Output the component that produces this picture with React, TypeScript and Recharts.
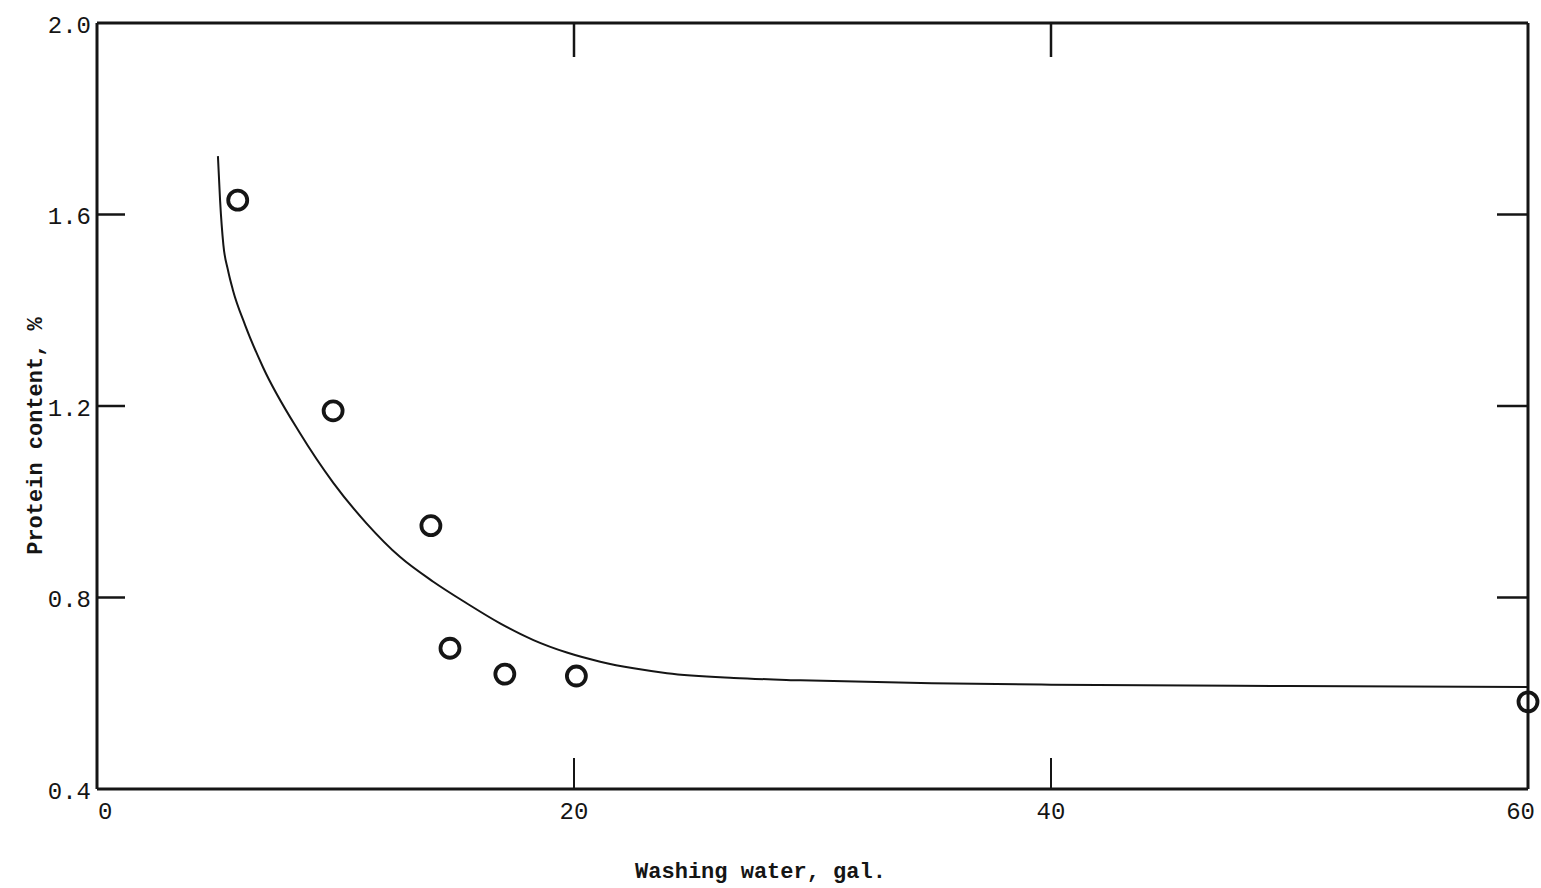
import React from 'react';
import { ComposedChart, Line, Scatter, XAxis, YAxis } from 'recharts';

// measured points (washing water, gal -> protein %)
const pointsX = [5.9, 9.9, 14.0, 14.8, 17.1, 20.1, 60];
const pointsY = [1.63, 1.19, 0.95, 0.694, 0.64, 0.636, 0.582];

// smooth fitted curve
const curveX = [5.07, 5.16, 5.3, 5.49, 5.7, 6.21, 6.96, 8.5, 9.9, 11.3, 12.7, 14.1, 15.5, 16.9, 18.3, 19.7, 21.1, 22.5, 23.9, 26.7, 29.5, 35, 40, 50, 60];
const curveY = [1.722, 1.63, 1.536, 1.484, 1.442, 1.369, 1.281, 1.144, 1.04, 0.955, 0.885, 0.833, 0.788, 0.746, 0.711, 0.685, 0.666, 0.652, 0.642, 0.632, 0.627, 0.621, 0.618, 0.615, 0.613];

const xTicks = [0, 20, 40, 60];
const yTicks = [0.4, 0.8, 1.2, 1.6, 2.0];
const innerXTicks = [20, 40];
const innerYTicks = [0.8, 1.2, 1.6];

const pointData = pointsX.map((x, i) => ({ x, y: pointsY[i] }));
const curveData = curveX.map((x, i) => ({ x, y: curveY[i] }));

const ink = '#151515';
const font = '"Liberation Mono", "DejaVu Sans Mono", monospace';

const LeftTick = (props: any) => {
  const { x, y, payload } = props;
  const v = payload.value;
  const inner = innerYTicks.includes(v);
  return (
    <g>
      {inner && <line x1={x + 6} x2={x + 34} y1={y} y2={y} stroke={ink} strokeWidth={2.5} />}
      <text x={x} y={y + 3} textAnchor="end" dominantBaseline="central" fontFamily={font} fontSize={24} fill={ink}>
        {v.toFixed(1)}
      </text>
    </g>
  );
};

const BottomTick = (props: any) => {
  const { x, y, payload } = props;
  const v = payload.value;
  const inner = innerXTicks.includes(v);
  let anchor: 'middle' | 'start' | 'end' = 'middle';
  let tx = x;
  if (v === 0) { anchor = 'start'; tx = x + 1; }
  if (v === 60) { anchor = 'end'; tx = x + 7; }
  return (
    <g>
      {inner && <line x1={x} x2={x} y1={y} y2={y - 31} stroke={ink} strokeWidth={2} />}
      <text x={tx} y={y + 23} textAnchor={anchor} dominantBaseline="central" fontFamily={font} fontSize={24} fill={ink}>
        {v}
      </text>
    </g>
  );
};

const TopTick = (props: any) => {
  const { x, y } = props;
  return <line x1={x} x2={x} y1={y} y2={y + 34} stroke={ink} strokeWidth={2.5} />;
};

const RightTick = (props: any) => {
  const { x, y } = props;
  return <line x1={x} x2={x - 31} y1={y} y2={y} stroke={ink} strokeWidth={2.5} />;
};

const Ring = (props: any) => {
  const { cx, cy } = props;
  return <circle cx={cx} cy={cy} r={9.5} fill="none" stroke={ink} strokeWidth={3.8} />;
};

const App = () => (
  <div style={{ width: 1541, height: 888, background: '#fff' }}>
    <style>{'body{margin:0}'}</style>
    <ComposedChart width={1541} height={888} margin={{ top: 22, right: 12, bottom: 0, left: 0 }}>
      <XAxis
        xAxisId="bottom"
        dataKey="x"
        type="number"
        domain={[0, 60]}
        ticks={xTicks}
        height={99}
        tickSize={0}
        tickMargin={0}
        tickLine={false}
        axisLine={{ stroke: ink, strokeWidth: 3 }}
        tick={<BottomTick />}
        interval={0}
        label={{
          content: (p: any) => (
            <text
              x={p.viewBox.x + p.viewBox.width / 2 - 52}
              y={p.viewBox.y + 83}
              textAnchor="middle"
              dominantBaseline="central"
              fontFamily={font}
              fontWeight="bold"
              fontSize={22}
              fill={ink}
            >
              Washing water, gal.
            </text>
          ),
        }}
      />
      <XAxis
        xAxisId="top"
        orientation="top"
        dataKey="x"
        type="number"
        domain={[0, 60]}
        ticks={innerXTicks}
        height={1}
        tickSize={0}
        tickMargin={0}
        tickLine={false}
        axisLine={{ stroke: ink, strokeWidth: 3 }}
        tick={<TopTick />}
        interval={0}
      />
      <YAxis
        yAxisId="left"
        dataKey="y"
        type="number"
        domain={[0.4, 2.0]}
        ticks={yTicks}
        width={97}
        tickSize={0}
        tickMargin={6}
        tickLine={false}
        axisLine={{ stroke: ink, strokeWidth: 3 }}
        tick={<LeftTick />}
        interval={0}
        label={{
          content: (p: any) => {
            const cx = p.viewBox.x + 36;
            const cy = p.viewBox.y + p.viewBox.height / 2 + 30;
            return (
              <text
                x={cx}
                y={cy}
                transform={`rotate(-90 ${cx} ${cy})`}
                textAnchor="middle"
                dominantBaseline="central"
                fontFamily={font}
                fontWeight="bold"
                fontSize={22}
                fill={ink}
              >
                Protein content, %
              </text>
            );
          },
        }}
      />
      <YAxis
        yAxisId="right"
        orientation="right"
        dataKey="y"
        type="number"
        domain={[0.4, 2.0]}
        ticks={innerYTicks}
        width={1}
        tickSize={0}
        tickMargin={0}
        tickLine={false}
        axisLine={{ stroke: ink, strokeWidth: 3 }}
        tick={<RightTick />}
        interval={0}
      />
      <Line
        data={curveData}
        xAxisId="top"
        yAxisId="right"
        dataKey="y"
        type="monotone"
        stroke={ink}
        strokeWidth={2}
        dot={false}
        activeDot={false}
        isAnimationActive={false}
      />
      <Scatter
        data={pointData}
        xAxisId="bottom"
        yAxisId="left"
        dataKey="y"
        shape={<Ring />}
        isAnimationActive={false}
      />
    </ComposedChart>
  </div>
);

export default App;
